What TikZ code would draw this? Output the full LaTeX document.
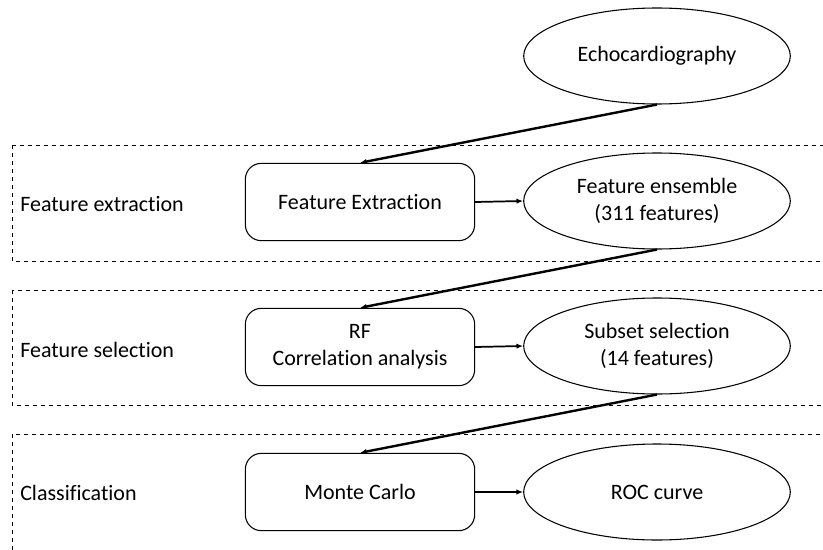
\documentclass[tikz,border=0pt]{standalone}
\usepackage{fontspec}
\setmainfont[Ligatures=NoCommon]{Carlito}
\usetikzlibrary{shapes.geometric,arrows.meta}
\tikzset{
    stage/.style={draw, dashed, line width=0.6pt},
    stagelabel/.style={anchor=west, inner sep=0pt},
    procbox/.style={draw, rounded corners=12pt, line width=0.8pt, minimum width=172pt, minimum height=58pt, align=center},
    resultell/.style={draw, ellipse, line width=0.8pt, minimum width=200pt, minimum height=72pt, align=center, inner sep=0pt},
    flow/.style={line width=1.3pt, -{Latex[length=5pt,width=4pt]}},
    down/.style={flow, line width=1.8pt},
}
\begin{document}
\begin{tikzpicture}[x=0.75pt, y=-0.75pt, font=\fontsize{16.5}{20}\selectfont]
    \useasboundingbox (0,0) rectangle (823,549);
    \clip (0,0) rectangle (823,549);
    % stage frames
    \draw[stage] (12,145) rectangle (830,261);
    \draw[stage] (12,290) rectangle (830,405);
    \draw[stage] (12,434) rectangle (830,560);
    \node[stagelabel] (lab1) at (20,204) {Feature extraction};
    \node[stagelabel] (lab2) at (20,350) {Feature selection};
    \node[stagelabel] (lab3) at (20,493) {Classification};
    % boxes
    \node[resultell] (echo) at (657,56) {Echocardiography};
    \node[procbox] (fext) at (360,202) {Feature Extraction};
    \node[resultell] (ens) at (657,201) {Feature ensemble\\(311 features)};
    \node[procbox] (rf) at (360,347) {RF\\Correlation analysis};
    \node[resultell] (sub) at (657,346) {Subset selection\\(14 features)};
    \node[procbox] (mc) at (360,492) {Monte Carlo};
    \node[resultell] (roc) at (657,492) {ROC curve};
    % arrows
    \draw[down] (echo.south) -- (fext.north);
    \draw[flow] (fext.east) -- (ens.west);
    \draw[down] (ens.south) -- (rf.north);
    \draw[flow] (rf.east) -- (sub.west);
    \draw[down] (sub.south) -- (mc.north);
    \draw[flow] (mc.east) -- (roc.west);
\end{tikzpicture}
\end{document}
